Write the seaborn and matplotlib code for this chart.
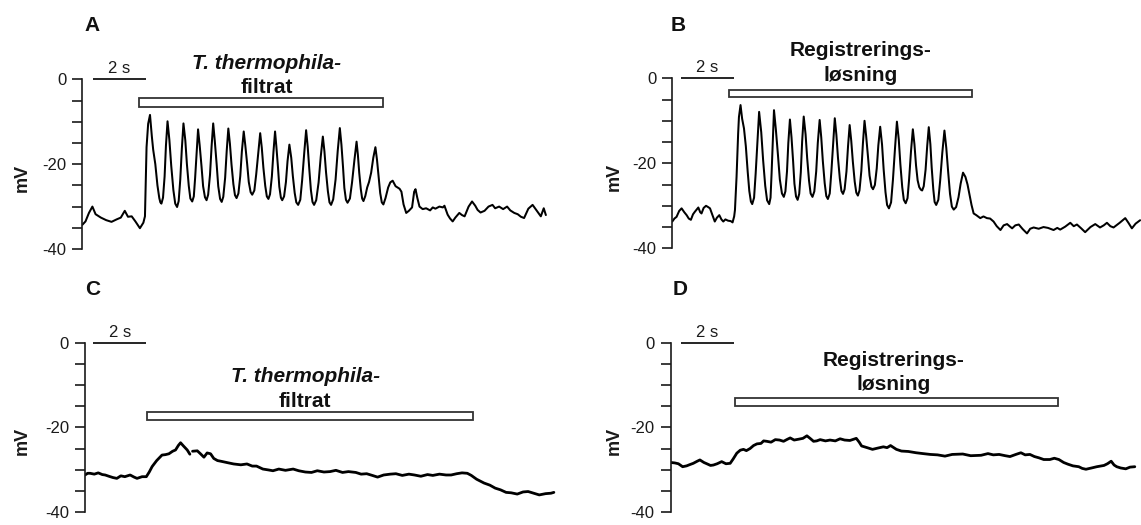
import numpy as np
import pandas as pd
import matplotlib
matplotlib.use("Agg")
import matplotlib.pyplot as plt
from matplotlib.patches import Rectangle
import seaborn as sns

# ---------------- data (time in s, membrane potential in mV) ----------------
a_t = [0.00, 0.12, 0.25, 0.38, 0.50, 0.70, 0.90, 1.10, 1.30, 1.45, 1.60, 1.72, 1.86, 2.00, 2.17, 2.30,
       2.36, 2.42, 2.48, 2.55, 2.62, 2.67, 2.75, 2.83, 2.90, 2.94, 2.98,
       3.04, 3.10, 3.15, 3.21, 3.28, 3.35, 3.43, 3.50, 3.57,
       3.63, 3.69, 3.75, 3.81, 3.88, 3.94, 4.01, 4.07, 4.14,
       4.20, 4.25, 4.31, 4.36, 4.42, 4.49, 4.55, 4.62, 4.68,
       4.74, 4.81, 4.87, 4.93, 4.99, 5.06, 5.12, 5.19, 5.25,
       5.31, 5.38, 5.44, 5.50, 5.56, 5.62, 5.69, 5.75, 5.81,
       5.88, 5.95, 6.01, 6.08, 6.14, 6.21, 6.27, 6.34, 6.40,
       6.48, 6.55, 6.63, 6.70, 6.76, 6.82, 6.89, 6.95, 7.01,
       7.07, 7.14, 7.20, 7.26, 7.31, 7.37, 7.42, 7.48, 7.53,
       7.60, 7.67, 7.73, 7.80, 7.87, 7.93, 8.00, 8.06, 8.13,
       8.21, 8.28, 8.36, 8.43, 8.49, 8.55, 8.61, 8.67, 8.73,
       8.81, 8.90, 8.98, 9.06, 9.12, 9.18, 9.25, 9.31, 9.37,
       9.45, 9.54, 9.62, 9.70, 9.76, 9.82, 9.87, 9.93, 9.99,
       10.08, 10.16, 10.25, 10.33, 10.38, 10.43, 10.49, 10.54, 10.59,
       10.66, 10.73, 10.80, 10.88, 10.96, 11.04, 11.10, 11.16, 11.22, 11.28, 11.34,
       11.42, 11.52, 11.60, 11.69, 11.80,
       11.95, 12.02, 12.10, 12.20, 12.30, 12.42, 12.50, 12.55, 12.62, 12.70, 12.82, 12.95, 13.10, 13.20,
       13.30, 13.45, 13.58, 13.64, 13.76, 13.85, 13.95, 14.05, 14.20, 14.30, 14.40, 14.55, 14.68, 14.80,
       14.89, 15.00, 15.15, 15.30, 15.45, 15.55, 15.70, 15.85, 16.00, 16.12, 16.27, 16.40, 16.52, 16.64,
       16.80, 16.96, 17.10, 17.27, 17.38, 17.46]
a_mv = [-34.3, -33.5, -31.5, -30.0, -31.8, -32.6, -33.2, -33.6, -33.0, -32.6, -31.0, -32.4, -32.3, -33.5, -35.1, -33.8,
        -32.3, -16.0, -10.5, -8.4, -13.5, -16.6, -20.0, -25.0, -28.0, -29.0, -29.3,
        -27.9, -22.9, -15.7, -9.9, -14.3, -20.4, -26.1, -29.3, -30.1,
        -28.7, -23.6, -16.3, -10.4, -14.4, -20.0, -25.1, -28.1, -28.8,
        -27.6, -23.2, -16.9, -11.8, -15.5, -20.5, -25.2, -27.8, -28.5,
        -27.2, -22.5, -15.8, -10.4, -14.5, -20.0, -25.2, -28.2, -28.9,
        -27.7, -23.2, -16.8, -11.6, -15.2, -20.1, -24.7, -27.3, -28.0,
        -26.9, -22.8, -17.0, -12.3, -15.6, -20.0, -24.2, -26.6, -27.2,
        -26.2, -22.4, -17.1, -12.7, -16.1, -20.8, -25.1, -27.6, -28.2,
        -27.1, -22.9, -17.1, -12.3, -15.9, -20.7, -25.3, -27.9, -28.5,
        -27.6, -24.2, -19.3, -15.4, -18.5, -22.8, -26.8, -29.0, -29.6,
        -28.4, -23.8, -17.3, -12.0, -15.9, -21.2, -26.1, -28.9, -29.6,
        -28.5, -24.3, -18.3, -13.5, -17.0, -21.9, -26.4, -29.0, -29.6,
        -28.3, -23.6, -16.9, -11.5, -15.4, -20.7, -25.6, -28.4, -29.1,
        -28.1, -24.3, -19.0, -14.7, -17.8, -22.0, -25.9, -28.1, -28.7,
        -27.5, -25.5, -24.2, -22.0, -18.5, -16.0, -19.0, -23.0, -26.8, -29.0, -29.5,
        -28.0, -25.5, -24.3, -23.9, -25.2,
        -25.8, -26.5, -29.5, -31.5, -31.0, -30.2, -26.5, -25.9, -28.0, -30.0, -30.6, -30.4, -30.9, -30.2,
        -30.5, -30.0, -30.2, -29.8, -31.9, -32.8, -33.5, -32.6, -31.5, -32.0, -32.3, -30.0, -28.8, -29.8,
        -30.8, -31.4, -31.0, -30.0, -29.6, -30.4, -30.0, -30.6, -30.0, -30.9, -31.5, -31.8, -32.4, -32.7,
        -30.5, -29.6, -30.8, -32.3, -30.4, -32.0]

b_t = [0.00, 0.08, 0.16, 0.26, 0.35, 0.45, 0.54, 0.62, 0.70, 0.78, 0.85, 0.98, 1.05, 1.10, 1.18, 1.27,
       1.35, 1.42, 1.50, 1.60, 1.68, 1.77, 1.85, 1.92, 2.00, 2.10, 2.20, 2.27, 2.33, 2.36, 2.42, 2.48,
       2.51, 2.57, 2.63, 2.70, 2.77, 2.84, 2.90, 2.96, 3.01,
       3.08, 3.14, 3.21, 3.27, 3.35, 3.42, 3.50, 3.57, 3.65,
       3.70, 3.74, 3.79, 3.83, 3.90, 3.98, 4.05, 4.13, 4.20,
       4.26, 4.32, 4.37, 4.43, 4.49, 4.55, 4.60, 4.66, 4.72,
       4.78, 4.84, 4.89, 4.95, 5.02, 5.08, 5.15, 5.21, 5.28,
       5.35, 5.42, 5.48, 5.55, 5.61, 5.67, 5.74, 5.80, 5.86,
       5.93, 5.99, 6.06, 6.12, 6.18, 6.24, 6.31, 6.37, 6.43,
       6.49, 6.56, 6.62, 6.68, 6.74, 6.80, 6.87, 6.93, 6.99,
       7.05, 7.12, 7.18, 7.24, 7.30, 7.37, 7.43, 7.50, 7.56,
       7.63, 7.70, 7.76, 7.83, 7.90, 7.96, 8.03, 8.09, 8.16,
       8.24, 8.31, 8.39, 8.46, 8.53, 8.59, 8.66, 8.72, 8.79,
       8.86, 8.92, 8.99, 9.06, 9.12, 9.18, 9.24, 9.30, 9.36, 9.41,
       9.47, 9.54, 9.60, 9.66, 9.72, 9.77, 9.83, 9.88, 9.94,
       10.02, 10.09, 10.17, 10.25, 10.32, 10.39, 10.46, 10.53, 10.60,
       10.69, 10.78, 10.86, 10.95, 11.04, 11.12, 11.20, 11.27, 11.35,
       11.45, 11.60,
       11.72, 11.85, 11.97, 12.10, 12.22, 12.36, 12.48, 12.61, 12.72, 12.80, 12.92, 13.05, 13.20, 13.36,
       13.48, 13.61, 13.80, 13.98, 14.15, 14.36, 14.50, 14.61, 14.80, 14.99, 15.12, 15.24, 15.40, 15.55,
       15.75, 15.93, 16.11, 16.25, 16.37, 16.50, 16.62, 16.85, 17.06, 17.18, 17.31, 17.45, 17.62]
b_mv = [-33.7, -33.0, -32.6, -31.2, -30.6, -31.5, -32.2, -33.0, -33.3, -32.0, -31.4, -30.4, -31.5, -31.8, -30.5, -30.0,
        -30.3, -30.6, -32.0, -33.7, -32.8, -32.2, -33.2, -33.7, -33.2, -33.5, -33.6, -33.9, -32.5, -31.0, -23.2, -13.0,
        -9.1, -6.3, -9.5, -11.8, -16.0, -22.0, -26.5, -29.0, -29.6,
        -28.1, -22.4, -14.4, -7.9, -12.7, -19.2, -25.3, -28.7, -29.6,
        -28.1, -22.3, -14.1, -7.5, -12.0, -18.1, -23.8, -27.1, -27.9,
        -26.6, -21.9, -15.2, -9.7, -13.9, -19.5, -24.8, -27.8, -28.6,
        -27.2, -22.1, -14.9, -9.0, -13.2, -18.8, -24.1, -27.1, -27.9,
        -26.6, -21.9, -15.2, -9.8, -13.9, -19.5, -24.7, -27.7, -28.4,
        -27.1, -22.1, -15.1, -9.4, -13.3, -18.7, -23.6, -26.5, -27.2,
        -26.1, -21.9, -15.9, -11.0, -14.7, -19.6, -24.3, -26.9, -27.6,
        -26.4, -21.8, -15.3, -10.0, -13.5, -18.4, -22.9, -25.5, -26.1,
        -25.1, -21.2, -15.8, -11.4, -15.6, -21.4, -26.8, -29.8, -30.6,
        -29.2, -23.9, -16.3, -10.2, -14.4, -20.2, -25.6, -28.6, -29.4,
        -28.2, -23.7, -17.2, -12.0, -15.5, -20.5, -24.0, -25.6, -26.2, -26.4,
        -25.4, -21.5, -16.0, -11.5, -15.5, -21.0, -26.1, -29.1, -29.8,
        -28.6, -24.0, -17.5, -12.3, -16.4, -22.0, -27.2, -30.2, -30.9,
        -30.3, -28.0, -24.8, -22.2, -23.2, -25.0, -27.5, -29.8, -31.8,
        -32.2, -32.9,
        -32.5, -32.9, -33.0, -33.7, -34.8, -35.7, -34.6, -34.3, -34.9, -35.3, -34.6, -34.4, -35.5, -36.5,
        -35.4, -35.1, -35.4, -35.0, -35.2, -35.7, -35.2, -35.6, -34.9, -34.0, -34.8, -34.4, -35.3, -36.2,
        -35.0, -34.3, -35.1, -34.6, -34.0, -34.8, -35.1, -34.0, -32.9, -34.0, -35.3, -34.2, -33.4]

c_t = [0.00, 0.10, 0.19, 0.35, 0.50, 0.65, 0.76, 0.90, 1.05, 1.20, 1.35, 1.50, 1.70, 1.85, 1.96, 2.15,
       2.31, 2.42, 2.53, 2.70, 2.90, 3.03, 3.16, 3.30, 3.41, 3.52, 3.60, 3.70, 3.85, 3.95,
       4.05, 4.23, 4.35, 4.48, 4.60, 4.73, 4.85, 4.99, 5.15, 5.37, 5.60, 5.87, 6.10, 6.30, 6.46, 6.70,
       6.90, 7.08, 7.30, 7.55, 7.84, 8.05, 8.30, 8.53, 8.75, 9.00, 9.23, 9.45, 9.70, 9.92, 10.20, 10.40,
       10.61, 10.82, 11.02, 11.25, 11.50, 11.71, 11.95, 12.20, 12.41, 12.65, 12.90, 13.10, 13.35, 13.60,
       13.79, 14.00, 14.20, 14.40, 14.55, 14.75, 15.03, 15.25, 15.45, 15.65, 15.86, 16.05, 16.28, 16.50,
       16.69, 16.90, 17.11, 17.35, 17.55, 17.66]
c_mv = [-31.2, -30.8, -30.8, -31.0, -30.7, -31.1, -31.2, -31.5, -31.8, -32.0, -31.4, -31.6, -31.2, -31.7, -32.0, -31.6,
        -31.6, -30.5, -29.2, -27.8, -26.5, -26.4, -26.2, -25.6, -25.3, -24.2, -23.6, -24.3, -25.3, -26.3,
        -25.6, -25.5, -26.2, -27.0, -26.0, -26.2, -27.3, -27.8, -28.0, -28.3, -28.6, -28.8, -28.6, -29.1, -29.1, -29.8,
        -30.0, -30.2, -29.8, -30.1, -29.8, -30.2, -30.5, -30.6, -30.2, -30.5, -30.4, -30.1, -30.6, -30.4, -30.6, -31.0,
        -30.9, -31.3, -31.7, -31.2, -31.0, -30.9, -31.3, -31.0, -31.2, -31.5, -31.1, -31.3, -31.0, -31.2,
        -31.2, -30.9, -30.7, -30.8, -31.3, -32.2, -33.1, -33.6, -34.3, -34.7, -35.3, -35.4, -35.7, -35.2,
        -35.1, -35.5, -35.9, -35.6, -35.5, -35.3]
c_seg = [0] * 30 + [1] * 66   # a short break in the recorded trace near 4 s

d_t = [0.00, 0.15, 0.29, 0.45, 0.60, 0.72, 0.85, 1.00, 1.10, 1.25, 1.36, 1.50, 1.61, 1.75, 1.92, 2.08,
       2.24, 2.35, 2.49, 2.62, 2.74, 2.85, 2.99, 3.12, 3.25, 3.40, 3.50, 3.62, 3.78, 3.94, 4.10, 4.25,
       4.40, 4.50, 4.65, 4.82, 4.98, 5.13, 5.25, 5.38, 5.50, 5.63, 5.83, 6.00, 6.20, 6.38, 6.55, 6.75,
       6.99, 7.10, 7.19, 7.40, 7.60, 7.80, 8.01, 8.15, 8.28, 8.50, 8.69, 8.95, 9.24, 9.50, 9.78, 10.05,
       10.33, 10.60, 11.00, 11.30, 11.69, 11.95, 12.15, 12.37, 12.60, 12.78, 13.00, 13.19, 13.35, 13.53,
       13.70, 13.87, 14.05, 14.28, 14.45, 14.62, 14.80, 14.96, 15.15, 15.37, 15.50, 15.64, 15.85, 16.05,
       16.32, 16.45, 16.59, 16.70, 16.80, 16.95, 17.14, 17.30, 17.48]
d_mv = [-28.3, -28.4, -28.6, -29.3, -29.1, -28.8, -28.5, -28.0, -27.7, -28.3, -28.6, -29.0, -28.9, -28.6, -28.1, -28.6,
        -28.5, -27.5, -26.1, -25.4, -25.2, -25.5, -25.0, -24.3, -23.9, -23.8, -23.2, -23.3, -23.5, -22.9, -23.0, -23.3,
        -22.8, -22.5, -23.0, -22.8, -22.6, -22.0, -22.6, -23.3, -23.2, -22.9, -23.2, -23.0, -23.2, -22.7, -23.0, -23.1,
        -22.6, -23.5, -24.4, -24.8, -25.2, -24.9, -24.6, -24.8, -24.3, -25.2, -25.6, -25.7, -26.0, -26.2, -26.4, -26.5,
        -26.8, -26.4, -26.3, -26.7, -26.6, -26.2, -26.5, -26.4, -26.7, -26.9, -26.4, -26.0, -26.5, -26.4,
        -26.9, -27.2, -27.6, -27.6, -27.3, -27.6, -28.3, -28.7, -29.1, -29.3, -29.7, -29.9, -29.6, -29.3,
        -29.0, -28.6, -28.0, -28.9, -29.3, -29.6, -29.8, -29.4, -29.3]

panel_letters = ["A", "B", "C", "D"]
stim_line1 = ["T. thermophila-", "Registrerings-", "T. thermophila-", "Registrerings-"]
stim_line2 = ["filtrat", "løsning", "filtrat", "løsning"]
stim_italic = [True, False, True, False]
stim_start = [2.14, 2.13, 2.34, 2.43]      # s
stim_end = [11.34, 11.29, 14.63, 14.60]    # s
stim_top = [-4.5, -2.75, -16.4, -13.1]     # mV
stim_bottom = [-6.45, -4.5, -18.2, -14.9]  # mV
text_x = [6.95, 7.08, 8.30, 8.40]          # s
text_y1 = [2.5, 5.3, -9.3, -5.5]           # mV (baseline)
text_y2 = [-3.3, -0.6, -15.2, -11.2]       # mV (baseline)
scale_start = [0.39, 0.32, 0.31, 0.38]     # s
scale_len = 2.0                            # s
scale_label = "2 s"
yticks_major = [0, -20, -40]
yticks_minor = [-5, -10, -15, -25, -30, -35]

# ---------------- style ----------------
sns.set_style("white")
plt.rcParams["font.family"] = ["Liberation Sans", "DejaVu Sans"]
plt.rcParams["axes.unicode_minus"] = False

W, H = 1141, 525
fig = plt.figure(figsize=(W / 100, H / 100), dpi=100)

PX_PER_S = 26.55
# (left px of spine, y px of 0 mV, y px of -40 mV, right px)
layout = [
    (82.3, 79.3, 249.0, 82.3 + 18 * PX_PER_S),
    (672.3, 78.3, 248.3, 1141.0),
    (85.0, 342.7, 512.3, 85.0 + 18 * PX_PER_S),
    (670.7, 342.7, 512.0, 1141.0),
]
letter_pos = [(84, 30.7), (671, 30.7), (85, 295.3), (673, 295.3)]
mv_label_x = [22, 614, 22, 614]

traces = [
    pd.DataFrame({"t": a_t, "mV": a_mv, "seg": 0}),
    pd.DataFrame({"t": b_t, "mV": b_mv, "seg": 0}),
    pd.DataFrame({"t": c_t, "mV": c_mv, "seg": c_seg}),
    pd.DataFrame({"t": d_t, "mV": d_mv, "seg": 0}),
]
line_w = [1.45, 1.45, 2.0, 2.0]
ink = "#1a1a1a"

for i in range(4):
    x0, y0, y40, x1 = layout[i]
    ax = fig.add_axes([x0 / W, 1 - y40 / H, (x1 - x0) / W, (y40 - y0) / H])
    df = traces[i]
    sns.lineplot(data=df, x="t", y="mV", units="seg", estimator=None, sort=False,
                 color="black", lw=line_w[i], ax=ax)
    ax.set_xlim(0, (x1 - x0) / PX_PER_S)
    ax.set_ylim(-40, 0)
    for s in ["top", "right", "bottom"]:
        ax.spines[s].set_visible(False)
    ax.spines["left"].set_color(ink)
    ax.spines["left"].set_linewidth(1.2)
    ax.set_xticks([])
    ax.set_xlabel("")
    ax.set_yticks(yticks_major)
    ax.set_yticklabels([str(v) for v in yticks_major])
    ax.set_yticks(yticks_minor, minor=True)
    ax.tick_params(axis="y", which="both", direction="out", length=7, width=1.2,
                   color=ink, left=True)
    ax.tick_params(axis="y", which="major", labelsize=12, pad=4.5, labelcolor=ink)
    ax.patch.set_alpha(0)

    # y label
    ax.set_ylabel("mV", fontsize=13, fontweight="bold", color=ink)
    ax.yaxis.label.set_rotation_mode("anchor")
    ax.yaxis.label.set_verticalalignment("center")
    ax.yaxis.set_label_coords((mv_label_x[i] - x0) / (x1 - x0), 0.42)

    # scale bar
    ax.plot([scale_start[i], scale_start[i] + scale_len], [0, 0], color="black",
            lw=1.2, clip_on=False, solid_capstyle="butt")
    ax.text(scale_start[i] + scale_len / 2, 1.4, scale_label, ha="center", va="baseline",
            fontsize=12, color=ink, clip_on=False)

    # stimulus bar
    ax.add_patch(Rectangle((stim_start[i], stim_bottom[i]), stim_end[i] - stim_start[i],
                           stim_top[i] - stim_bottom[i], facecolor="white",
                           edgecolor="#333333", lw=1.3, clip_on=False, zorder=3))
    style = "italic" if stim_italic[i] else "normal"
    ax.text(text_x[i], text_y1[i], stim_line1[i], ha="center", va="baseline",
            fontsize=15, fontweight="bold", fontstyle=style, color="#111111", clip_on=False)
    ax.text(text_x[i], text_y2[i], stim_line2[i], ha="center", va="baseline",
            fontsize=15, fontweight="bold", color="#111111", clip_on=False)

    # panel letter
    lx, ly = letter_pos[i]
    fig.text(lx / W, 1 - ly / H, panel_letters[i], ha="left", va="baseline",
             fontsize=15, fontweight="bold", color="#111111")

fig.savefig("out.png", dpi=100)
